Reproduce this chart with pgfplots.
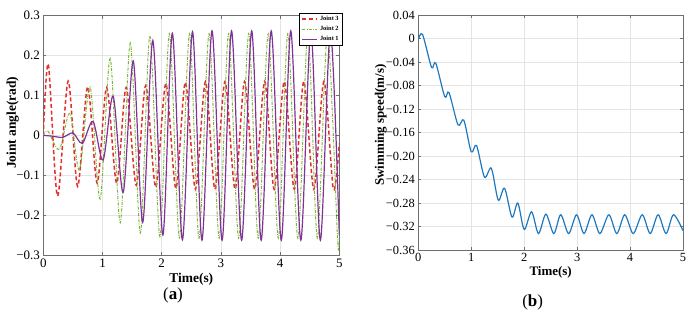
\documentclass[border=0pt]{standalone}
\usepackage{pgfplots}
\pgfplotsset{compat=1.18}
\usepackage{fontspec}
\setmainfont{Liberation Serif}
\definecolor{jred}{RGB}{228,45,45}
\definecolor{jgreen}{RGB}{125,180,55}
\definecolor{jpurple}{RGB}{128,50,150}
\definecolor{sblue}{RGB}{30,120,190}
\definecolor{axgray}{RGB}{110,110,110}
\definecolor{gridgray}{RGB}{228,228,228}
\pgfplotsset{
  mystyle/.style={
    scale only axis,
    axis line style={axgray, line width=0.8pt},
    major tick style={axgray, line width=0.6pt},
    major tick length=3bp,
    tick align=inside,
    grid=major,
    major grid style={gridgray, line width=0.6pt},
    /pgf/number format/assume math mode=true,
    ticklabel style={font=\fontsize{13}{13}\selectfont},
    xmin=0, xmax=5,
    xtick={0,1,2,3,4,5},
    label style={font=\fontsize{13.5}{14}\selectfont\bfseries},
    xlabel style={at={(axis description cs:0.5,0)}, anchor=center, yshift=-24bp},
  }
}
\begin{document}
\begin{tikzpicture}
\path[use as bounding box] (0,0) rectangle (695bp,321bp);
% ---------------- (a)
\begin{axis}[mystyle,
  at={(43.3bp,66bp)}, anchor=south west,
  width=296bp, height=239.3bp,
  ymin=-0.3, ymax=0.3,
  ytick={-0.3,-0.2,-0.1,0,0.1,0.2,0.3},
  yticklabels={−0.3,−0.2,−0.1,0,0.1,0.2,0.3},
  xlabel={Time(s)},
  ylabel={Joint angle(rad)},
  ylabel style={at={(axis description cs:-0.1034,0.553)}, anchor=center},
  legend style={at={(1.012,1.012)}, anchor=north east,
    font=\fontsize{6.4}{7.2}\selectfont\bfseries, row sep=0.3bp,
    inner xsep=2bp, inner ysep=1bp, cells={anchor=west}},
  legend image code/.code={\draw[#1] (0bp,0bp) -- (15bp,0bp);},
]
\addplot[color=jred, line width=1.5pt, dash pattern=on 4bp off 2.6bp, smooth] coordinates {
(0,0.0) (0.085,0.178) (0.24,-0.152) (0.42,0.136) (0.58,-0.128) (0.75,0.122)
(0.91,-0.12) (1.07,0.12) (1.24,-0.12) (1.40,0.12) (1.57,-0.125) (1.73,0.125)
(1.90,-0.13) (2.07,0.13) (2.24,-0.133) (2.40,0.133) (2.57,-0.135) (2.74,0.135)
(2.90,-0.135) (3.07,0.135) (3.24,-0.135) (3.40,0.135) (3.57,-0.135) (3.74,0.135)
(3.90,-0.135) (4.07,0.135) (4.24,-0.135) (4.40,0.135) (4.57,-0.135) (4.74,0.135)
(4.90,-0.135) (5.0,-0.02)};
\addlegendentry{Joint 3}
\addplot[color=jgreen, line width=1.0pt, dash pattern=on 3bp off 1.3bp on 0.8bp off 1.3bp, smooth] coordinates {
(0,0) (0.08,0.01) (0.27,-0.035) (0.45,0.055) (0.61,-0.087) (0.79,0.122)
(0.96,-0.16) (1.13,0.193) (1.30,-0.219) (1.47,0.232) (1.64,-0.245) (1.80,0.249)
(1.97,-0.254) (2.13,0.255) (2.30,-0.257) (2.47,0.255) (2.63,-0.258) (2.80,0.255)
(2.97,-0.258) (3.13,0.255) (3.30,-0.258) (3.47,0.255) (3.63,-0.258) (3.80,0.255)
(3.97,-0.258) (4.13,0.255) (4.30,-0.258) (4.47,0.255) (4.63,-0.258) (4.80,0.255)
(4.97,-0.258) (5.0,-0.255)};
\addlegendentry{Joint 2}
\addplot[color=jpurple, line width=1.2pt, smooth] coordinates {
(0,0) (0.15,-0.002) (0.33,-0.005) (0.50,0.006) (0.66,-0.02) (0.84,0.035)
(1.01,-0.062) (1.18,0.098) (1.35,-0.143) (1.52,0.186) (1.68,-0.218) (1.85,0.238)
(2.02,-0.25) (2.18,0.256) (2.35,-0.262) (2.52,0.26) (2.68,-0.263) (2.85,0.262)
(3.02,-0.263) (3.18,0.262) (3.35,-0.263) (3.52,0.262) (3.68,-0.263) (3.85,0.262)
(4.02,-0.263) (4.18,0.262) (4.35,-0.263) (4.52,0.262) (4.68,-0.263) (4.85,0.262)
(5.0,-0.25)};
\addlegendentry{Joint 1}
\end{axis}
\node[font=\fontsize{17}{17}\selectfont] at (173bp,26bp) {(\textbf{a})};
% ---------------- (b)
\begin{axis}[mystyle,
  at={(418.3bp,71bp)}, anchor=south west,
  width=264.7bp, height=235bp,
  ymin=-0.36, ymax=0.04,
  ytick={-0.36,-0.32,-0.28,-0.24,-0.20,-0.16,-0.12,-0.08,-0.04,0,0.04},
  yticklabels={−0.36,−0.32,−0.28,−0.24,−0.20,−0.16,−0.12,−0.08,−0.04,0,0.04},
  ticklabel style={font=\fontsize{12.5}{13}\selectfont},
  label style={font=\fontsize{13}{13.5}\selectfont\bfseries},
  xlabel={Time(s)},
  xlabel style={yshift=2bp},
  ylabel={Swimming speed(m/s)},
  ylabel style={at={(axis description cs:-0.142,0.532)}, anchor=center},
]
\addplot[sblue, line width=1.2pt, smooth] coordinates {
(0,-0.002) (0.08,0.007) (0.25,-0.049) (0.33,-0.042) (0.50,-0.099) (0.58,-0.092)
(0.75,-0.147) (0.86,-0.139) (1.0,-0.193) (1.10,-0.182) (1.25,-0.236) (1.38,-0.221)
(1.51,-0.275) (1.63,-0.255) (1.77,-0.304) (1.88,-0.28) (2.0,-0.325) (2.14,-0.295)
(2.27,-0.332) (2.41,-0.299) (2.56,-0.332) (2.69,-0.30) (2.84,-0.332) (2.99,-0.30)
(3.13,-0.332) (3.28,-0.30) (3.43,-0.332) (3.60,-0.30) (3.75,-0.332) (3.90,-0.30)
(4.06,-0.332) (4.23,-0.30) (4.38,-0.332) (4.53,-0.30) (4.68,-0.332) (4.82,-0.30)
(5.0,-0.327)};
\end{axis}
\node[font=\fontsize{17}{17}\selectfont] at (532.7bp,19bp) {(\textbf{b})};
\end{tikzpicture}
\end{document}
